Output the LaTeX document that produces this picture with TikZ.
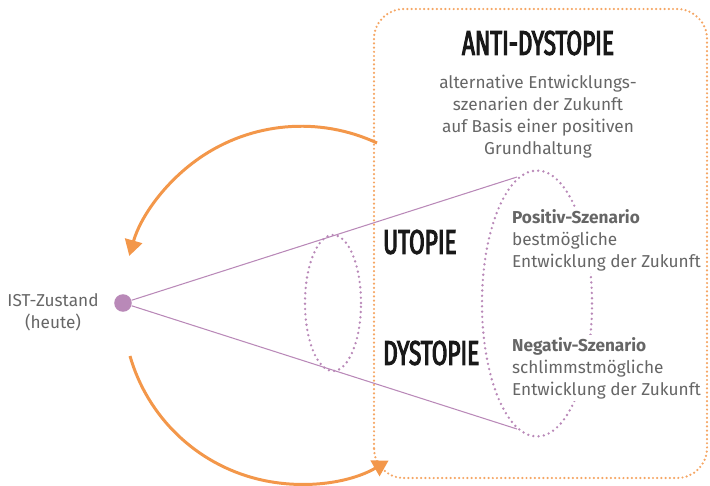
\documentclass[tikz,border=0pt]{standalone}
\usepackage{fontspec}
\setmainfont{Fira Sans}
\newfontfamily\titelfont[FakeStretch=0.66,FakeBold=3]{Fira Sans}
\usetikzlibrary{arrows.meta,positioning}
\definecolor{orng}{RGB}{243,151,74}
\definecolor{orngl}{RGB}{245,166,100}
\definecolor{lila}{RGB}{185,137,184}
\definecolor{grau}{RGB}{102,102,102}
\tikzset{
  pfeil/.style={line width=1.7pt,orng,-{Triangle[length=9pt,width=10pt]}},
  rahmen/.style={draw=orngl,line width=1.4pt,line cap=round,dash pattern=on 0pt off 2.4pt,rounded corners=17pt},
  punktiert/.style={draw=lila,line width=1.5pt,line cap=round,dash pattern=on 0pt off 3pt},
  strahl/.style={lila,line width=0.6pt},
  titel/.style={font=\titelfont\fontsize{19.5}{20}\selectfont,text=black!90},
  txt/.style={text=grau,font=\fontsize{9.8}{12.5}\selectfont,inner sep=1pt},
}

\begin{document}
\begin{tikzpicture}[x=0.02cm,y=0.02cm]
  \useasboundingbox (0,0) rectangle (710,485);
  % Rahmen Anti-Dystopie
  \draw[rahmen] (374,7) rectangle (707,476);
  % Ellipsen
  \draw[punktiert] (333,182) ellipse [x radius=28,y radius=68];
  \draw[punktiert] (537,181.5) ellipse [x radius=55,y radius=133];
  % Ist-Zustand und Strahlen
  \node[circle,fill=lila,inner sep=0pt,minimum size=10pt] (ist) at (123,182) {};
  \node[txt,align=center] (istlabel) at (53,173) {IST-Zustand\\(heute)};
  \coordinate (oben) at (517,308);
  \coordinate (unten) at (517,56);
  \draw[strahl] (ist) -- (oben);
  \draw[strahl] (ist) -- (unten);
  % Pfeile
  \draw[pfeil] (377,342) arc[start angle=65,end angle=164,radius=179];
  \draw[pfeil] (130,129) arc[start angle=196,end angle=300,radius=177];
  % Texte
  \node[titel] (anti) at (538,442) {ANTI-DYSTOPIE};
  \node[txt,align=center] (antitext) at (538,368)
    {alternative Entwicklungs-\\szenarien der Zukunft\\auf Basis einer positiven\\Grundhaltung};
  \node[titel,anchor=west] (utopie) at (377,243) {UTOPIE};
  \node[titel,anchor=west] (dystopie) at (377,132) {DYSTOPIE};
  \node[txt,fill=white,align=left,anchor=west] (pos) at (510,245)
    {\textbf{Positiv-Szenario}\\bestmögliche\\Entwicklung der Zukunft};
  \node[txt,fill=white,align=left,anchor=west] (neg) at (510,117)
    {\textbf{Negativ-Szenario}\\schlimmstmögliche\\Entwicklung der Zukunft};
\end{tikzpicture}
\end{document}
